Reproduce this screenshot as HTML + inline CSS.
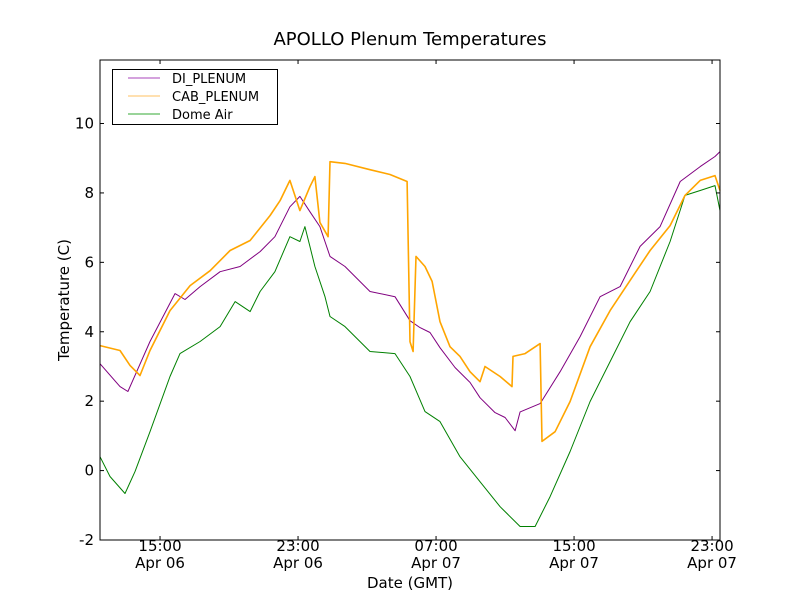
<!DOCTYPE html>
<html><head><meta charset="utf-8"><style>
html,body{margin:0;padding:0;background:#fff;}
svg text{font-family:"DejaVu Sans","Liberation Sans",sans-serif;}
</style></head><body>
<svg id="chart" width="800" height="600" xmlns="http://www.w3.org/2000/svg">
<rect width="800" height="600" fill="#fff"/>
<text x="410" y="45" font-size="18" text-anchor="middle">APOLLO Plenum Temperatures</text>
<g id="series"></g>
<rect x="100" y="60" width="620" height="480" fill="none" stroke="#000" stroke-width="1"/>
<g id="axes"></g>
<text x="410" y="588" font-size="15" text-anchor="middle">Date (GMT)</text>
<text transform="translate(69,300) rotate(-90)" font-size="15" text-anchor="middle">Temperature (C)</text>
<g>
<rect x="112.5" y="69.5" width="165" height="55" fill="#fff" stroke="#000"/>
<line x1="128" y1="78" x2="160" y2="78" stroke="#aa44bb"/>
<text x="172" y="83" font-size="13">DI_PLENUM</text>
<line x1="128" y1="96" x2="160" y2="96" stroke="#ffc060"/>
<text x="172" y="101" font-size="13">CAB_PLENUM</text>
<line x1="128" y1="114" x2="160" y2="114" stroke="#33aa33"/>
<text x="172" y="119" font-size="13">Dome Air</text>
</g>
</svg>
<script>
const xTicks=[15,23,31,39,47];
const xTickTimes=["15:00","23:00","07:00","15:00","23:00"];
const xTickDates=["Apr 06","Apr 06","Apr 07","Apr 07","Apr 07"];
const yTicks=[-2,0,2,4,6,8,10];
const diHours=[11.52,12.68,13.14,14.42,15.87,16.45,17.32,18.48,19.64,20.8,21.66,22.53,23.11,23.69,24.27,24.85,25.72,27.17,28.62,29.2,29.49,30.07,30.65,31.23,32.1,32.97,33.55,34.42,35,35.58,35.87,37.03,38.19,39.35,40.51,41.67,42.83,43.99,45.15,46.31,47.17,47.46];
const diTemps=[3.08,2.42,2.28,3.72,5.1,4.93,5.3,5.73,5.88,6.31,6.74,7.6,7.9,7.46,7.03,6.17,5.88,5.16,5.01,4.55,4.32,4.12,3.98,3.54,2.97,2.54,2.1,1.67,1.53,1.15,1.69,1.93,2.85,3.86,5.01,5.3,6.46,7.03,8.33,8.76,9.05,9.19];
const cabHours=[11.52,12.68,13.26,13.84,14.42,15.58,16.74,17.9,19.06,20.22,21.38,21.96,22.53,23.11,23.69,23.98,24.27,24.74,24.85,25.72,27.17,28.33,29.32,29.49,29.67,29.84,30.36,30.77,31.23,31.81,32.39,32.97,33.55,33.84,34.71,35.4,35.46,36.16,37.03,37.14,37.9,38.77,39.93,41.09,42.25,43.41,44.57,45.43,46.31,47.17,47.46];
const cabTemps=[3.6,3.46,3.03,2.74,3.46,4.61,5.33,5.76,6.34,6.63,7.35,7.78,8.36,7.49,8.18,8.47,7.15,6.74,8.9,8.85,8.67,8.53,8.33,3.71,3.43,6.17,5.88,5.45,4.29,3.57,3.29,2.85,2.56,3.0,2.71,2.42,3.29,3.37,3.66,0.84,1.12,1.99,3.57,4.61,5.48,6.34,7.06,7.93,8.36,8.5,8.07];
const domeHours=[11.52,12.1,12.97,13.55,14.42,15.58,16.16,17.32,18.48,19.35,20.22,20.8,21.66,22.53,23.11,23.4,23.69,23.98,24.56,24.85,25.72,27.17,28.62,29.49,30.36,31.23,32.39,33.55,34.71,35.87,36.74,37.61,38.77,39.93,41.09,42.25,43.41,44.57,45.43,46.31,47.17,47.46];
const domeTemps=[0.4,-0.17,-0.66,-0.03,1.12,2.71,3.37,3.72,4.15,4.87,4.58,5.16,5.73,6.74,6.6,7.03,6.46,5.88,5.01,4.44,4.15,3.43,3.37,2.71,1.7,1.41,0.4,-0.32,-1.04,-1.61,-1.61,-0.75,0.55,1.99,3.14,4.29,5.16,6.6,7.93,8.07,8.21,7.49];

const NS="http://www.w3.org/2000/svg";
const X0=11.52,X1=47.46,Y0=-2,Y1=11.83;
const L=100,R=720,T=60,B=540;
function xs(h){return L+(h-X0)/(X1-X0)*(R-L);}
function ys(v){return B-(v-Y0)/(Y1-Y0)*(B-T);}
const series=document.getElementById('series');
function drawLine(hs,vs,color,w,name){
  const p=document.createElementNS(NS,'polyline');
  p.setAttribute('points',hs.map((h,i)=>xs(h).toFixed(1)+','+ys(vs[i]).toFixed(1)).join(' '));
  p.setAttribute('fill','none');p.setAttribute('stroke',color);p.setAttribute('stroke-width',w);
  p.setAttribute('stroke-linejoin','round');
  
  
  series.appendChild(p);
}
drawLine(domeHours,domeTemps,'green',1,'dome-air-line');
drawLine(diHours,diTemps,'purple',1,'di-plenum-line');
drawLine(cabHours,cabTemps,'orange',1.6,'cab-plenum-line');
const axes=document.getElementById('axes');
function mk(tag,attrs,text){const e=document.createElementNS(NS,tag);for(const k in attrs)e.setAttribute(k,attrs[k]);if(text!==undefined)e.textContent=text;axes.appendChild(e);return e;}
xTicks.forEach((h,i)=>{
  const x=xs(h);
  const t1=mk('line',{x1:x,y1:B,x2:x,y2:B-4,stroke:'#000'});
  
  
  const t2=mk('line',{x1:x,y1:T,x2:x,y2:T+4,stroke:'#000'});
  
  
  const a=mk('text',{x:x,y:551,'font-size':15,'text-anchor':'middle'},xTickTimes[i]);
  
  
  const b=mk('text',{x:x,y:568,'font-size':15,'text-anchor':'middle'},xTickDates[i]);
  
  
});
yTicks.forEach(v=>{
  const y=ys(v);
  const t1=mk('line',{x1:L,y1:y,x2:L+4,y2:y,stroke:'#000'});
  
  
  const t2=mk('line',{x1:R,y1:y,x2:R-4,y2:y,stroke:'#000'});
  
  
  const l=mk('text',{x:94,y:y+5,'font-size':15,'text-anchor':'end'},String(v));
  
  
});
</script>
</body></html>
